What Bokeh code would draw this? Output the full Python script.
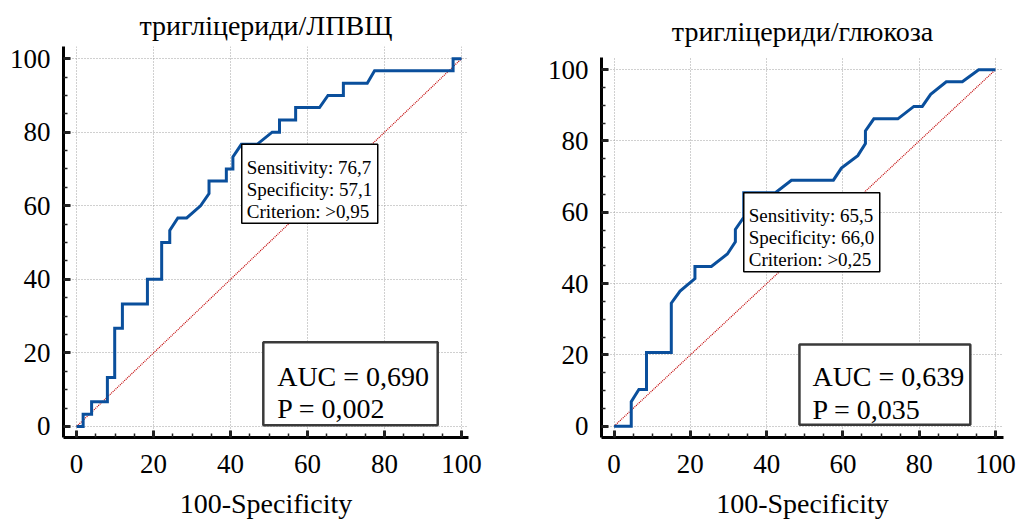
from bokeh.plotting import figure
from bokeh.layouts import row
from bokeh.models import Range1d, BoxAnnotation, Label, SingleIntervalTicker
from bokeh.embed import file_html
from bokeh.resources import INLINE

SERIF = "Liberation Serif, serif"

# ---- data: left panel (тригліцериди/ЛПВЩ) ----
left_title = "тригліцериди/ЛПВЩ"
left_fpr = [0, 1.7, 1.7, 3.9, 3.9, 8.0, 8.0, 9.9, 9.9, 11.9, 11.9, 18.4, 18.4, 22.1, 22.1,
            24.2, 24.2, 26.3, 28.6, 32.2, 34.4, 34.4, 38.9, 38.9, 40.6, 40.6, 42.8, 46.9,
            50.8, 52.7, 52.7, 56.9, 56.9, 63.1, 65.3, 69.3, 69.3, 75.5, 77.4, 97.8, 97.8, 100]
left_tpr = [0, 0, 3.3, 3.3, 6.7, 6.7, 13.3, 13.3, 26.7, 26.7, 33.3, 33.3, 40.0, 40.0, 50.0,
            50.0, 53.3, 56.7, 56.7, 60.0, 63.3, 66.7, 66.7, 70.0, 70.0, 73.3, 76.7, 76.7,
            80.0, 80.0, 83.3, 83.3, 86.7, 86.7, 90.0, 90.0, 93.3, 93.3, 96.7, 96.7, 100, 100]
left_sens = "76,7"
left_spec = "57,1"
left_crit = ">0,95"
left_cut = (42.9, 76.7)
left_auc = "0,690"
left_p = "0,002"

# ---- data: right panel (тригліцериди/глюкоза) ----
right_title = "тригліцериди/глюкоза"
right_fpr = [0, 4.5, 4.5, 6.5, 8.5, 8.5, 15.0, 15.0, 17.3, 21.2, 21.2, 25.5, 29.7, 31.8, 31.8,
             34.0, 34.0, 42.3, 46.5, 57.5, 59.6, 63.9, 65.9, 65.9, 68.1, 74.4, 78.6, 80.8,
             83.0, 87.1, 91.3, 95.6, 100]
right_tpr = [0, 0, 6.9, 10.3, 10.3, 20.7, 20.7, 34.5, 37.9, 41.4, 44.8, 44.8, 48.3, 51.7, 55.2,
             58.6, 65.5, 65.5, 69.0, 69.0, 72.4, 75.9, 79.3, 82.8, 86.2, 86.2, 89.7, 89.7,
             93.1, 96.6, 96.6, 100, 100]
right_sens = "65,5"
right_spec = "66,0"
right_crit = ">0,25"
right_cut = (34.0, 65.5)
right_auc = "0,639"
right_p = "0,035"

ref_line = [0, 100]
x_label = "100-Specificity"

W, H = 510, 522
BT = 46
BB = H - 437


def make_panel(title, title_standoff, fpr, tpr, cut, sens, spec, crit, auc, pval,
               xr, yr, y_top, bl, br, auc_box, auc_txt):
    p = figure(width=W, height=H,
               x_range=Range1d(*xr), y_range=Range1d(*yr),
               output_backend="svg", toolbar_location=None,
               min_border_left=bl, min_border_right=br, min_border_top=BT,
               min_border_bottom=BB, background_fill_color="white",
               border_fill_color="white")
    p.outline_line_color = None

    p.title.text = title
    p.title.align = "center"
    p.title.text_font = SERIF
    p.title.text_font_size = "28px"
    p.title.text_font_style = "normal"
    p.title.text_color = "black"
    p.title.standoff = title_standoff

    for ax in (p.xaxis[0], p.yaxis[0]):
        ax.ticker = SingleIntervalTicker(interval=20, num_minor_ticks=4)
        ax.axis_line_width = 3
        ax.axis_line_color = "black"
        ax.major_tick_line_width = 3
        ax.major_tick_line_color = "#222222"
        ax.major_tick_in = 7
        ax.major_tick_out = 0
        ax.minor_tick_line_width = 1.5
        ax.minor_tick_line_color = "#222222"
        ax.minor_tick_in = 4
        ax.minor_tick_out = 0
        ax.major_label_text_font = SERIF
        ax.major_label_text_font_size = "27px"
        ax.major_label_text_color = "black"
    p.yaxis.major_label_standoff = 13
    p.yaxis.bounds = (yr[0], y_top)
    p.xaxis.major_label_standoff = 17
    p.xaxis.axis_label = x_label
    p.xaxis.axis_label_text_font = SERIF
    p.xaxis.axis_label_text_font_size = "28px"
    p.xaxis.axis_label_text_font_style = "normal"
    p.xaxis.axis_label_text_color = "black"
    p.xaxis.axis_label_standoff = 12

    p.grid.grid_line_color = "#a0a0a0"
    p.grid.grid_line_dash = "1 2"
    p.grid.grid_line_width = 1
    xg = p.xgrid[0]
    if "cross_bounds" in xg.properties():
        xg.cross_bounds = (yr[0], y_top)

    p.line(ref_line, ref_line, line_color="#c00000", line_width=1.2, line_dash="1 1")
    p.line(fpr, tpr, line_color="#0a4f9c", line_width=3, line_join="miter")

    fw = W - bl - br
    fh = H - BT - BB
    sx = fw / (xr[1] - xr[0])
    sy = fh / (yr[1] - yr[0])
    p.add_layout(BoxAnnotation(left=cut[0], top=cut[1],
                               right=cut[0] + 136 / sx, bottom=cut[1] - 79 / sy,
                               fill_color="white", fill_alpha=1,
                               line_color="black", line_alpha=1, line_width=1.5))
    for i, t in enumerate(["Sensitivity: " + sens, "Specificity: " + spec,
                           "Criterion: " + crit]):
        p.add_layout(Label(x=cut[0], y=cut[1], x_offset=5, y_offset=-(23 + 22 * i),
                           text=t, text_font=SERIF, text_font_size="19px",
                           text_color="black", text_baseline="alphabetic"))

    l, r, b, t = auc_box
    p.add_layout(BoxAnnotation(left=l, right=r, bottom=b, top=t,
                               fill_color="white", fill_alpha=1,
                               line_color="#3a3a3a", line_alpha=1, line_width=2.5))
    tx, ty1, ty2 = auc_txt
    p.add_layout(Label(x=tx, y=ty1, text="AUC = " + auc, text_font=SERIF,
                       text_font_size="28px", text_color="black",
                       text_baseline="alphabetic"))
    p.add_layout(Label(x=tx, y=ty2, text="P = " + pval, text_font=SERIF,
                       text_font_size="28px", text_color="black",
                       text_baseline="alphabetic"))
    return p


p1 = make_panel(left_title, 12, left_fpr, left_tpr, left_cut, left_sens, left_spec,
                left_crit, left_auc, left_p, (-3.4, 101.8), (-3.0, 103.3), 103.3, 63, 42,
                (48.5, 93.8, 0.3, 22.9), (52.1, 13.6, 4.9))
p2 = make_panel(right_title, 0, right_fpr, right_tpr, right_cut, right_sens,
                right_spec, right_crit, right_auc, right_p, (-3.3, 102.1), (-3.17, 106.5),
                103.4, 91, 17, (48.6, 93.4, 0.4, 22.9), (52.0, 13.9, 4.6))

layout = row(p1, p2)
open("out.html", "w").write(file_html(layout, INLINE))
